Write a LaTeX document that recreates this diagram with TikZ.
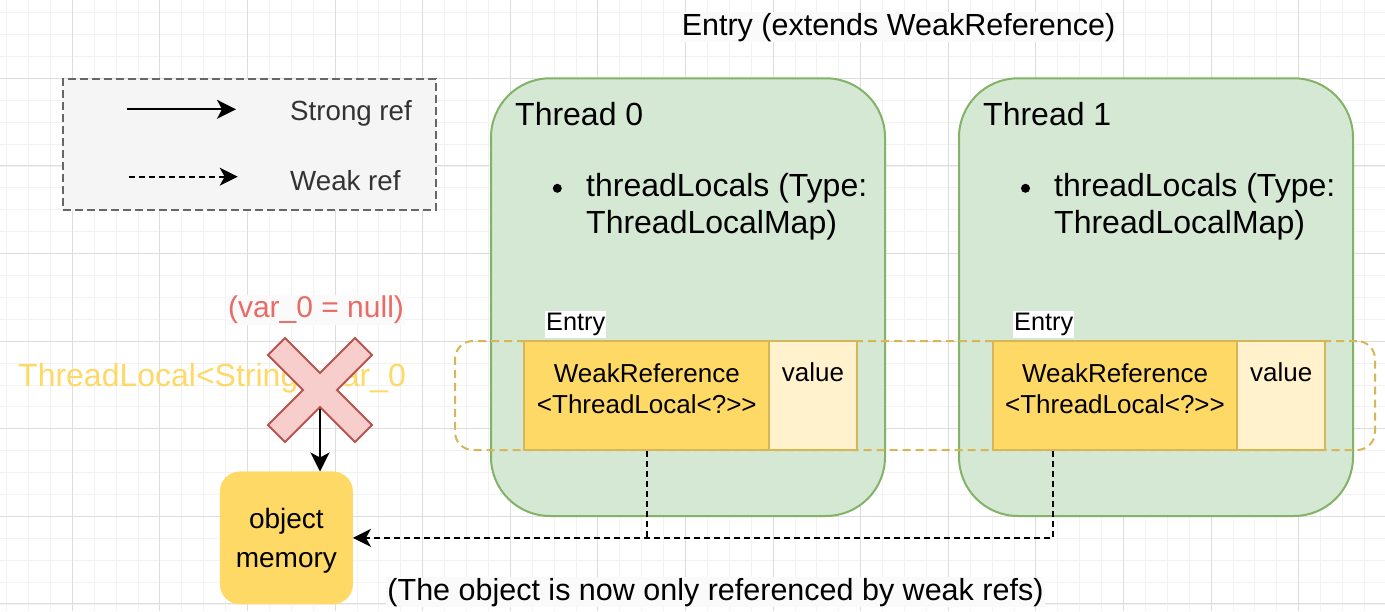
\documentclass[tikz,border=0pt]{standalone}
\usepackage{fontspec}
\setmainfont{Liberation Sans}[Ligatures=TeXOff]
\usetikzlibrary{arrows.meta,calc}
\definecolor{gridminor}{HTML}{F2F2F2}
\definecolor{gridmajor}{HTML}{DDDDDD}
\definecolor{thfill}{HTML}{D5E8D4}
\definecolor{thline}{HTML}{82B366}
\definecolor{wrfill}{HTML}{FFD966}
\definecolor{wrline}{HTML}{D6B656}
\definecolor{valfill}{HTML}{FFF2CC}
\definecolor{xfill}{HTML}{F8CECC}
\definecolor{xline}{HTML}{B85450}
\definecolor{redtxt}{HTML}{EA6B66}
\definecolor{legfill}{HTML}{F5F5F5}
\definecolor{legline}{HTML}{666666}
\definecolor{legtxt}{HTML}{333333}
\definecolor{lblbg}{HTML}{FAFAFA}
\newcommand\fsz[2]{\fontsize{#1}{#2}\selectfont}
\begin{document}
\begin{tikzpicture}[x=1pt,y=-1pt,
  minorgrid/.style={draw=gridminor,line width=1pt},
  majorgrid/.style={draw=gridmajor,line width=1pt},
  thread/.style={draw=thline,fill=thfill,line width=2pt,rounded corners=59pt,minimum width=394pt,minimum height=437.7pt,inner sep=0pt},
  wrbox/.style={draw=wrline,fill=wrfill,line width=2pt,minimum width=245pt,minimum height=109pt,inner sep=0pt},
  valbox/.style={draw=wrline,fill=valfill,line width=2pt,minimum width=87.6pt,minimum height=109pt,inner sep=0pt},
  groupbox/.style={draw=wrline,dash pattern=on 8pt off 5pt,line width=2pt,rounded corners=18pt,minimum width=920pt,minimum height=109pt,inner sep=0pt},
  bulletdot/.style={circle,fill=black,inner sep=0pt,minimum size=9pt},
  txt/.style={inner sep=0pt,text=black},
  entrylbl/.style={anchor=base west,fill=white,inner xsep=1pt,inner ysep=2.5pt,font=\fsz{25.3}{30}},
  strongarrow/.style={line width=2pt,-{Stealth[length=19pt,width=19pt,inset=5pt]}},
  weakline/.style={line width=2pt,dash pattern=on 6pt off 4pt},
  weakarrow/.style={weakline,-{Stealth[length=18pt,width=18pt,inset=5pt]}}
]
\useasboundingbox (0,0) rectangle (1385,611);
\fill[white] (0,0) rectangle (1385,611);
% grid
\foreach \i in {0,...,63} {\draw[minorgrid] ({6.6+\i*21.9},0) -- ({6.6+\i*21.9},611);}
\foreach \i in {0,...,28} {\draw[minorgrid] (0,{12.7+\i*21.9}) -- (1385,{12.7+\i*21.9});}
\foreach \i in {0,...,15} {\draw[majorgrid] ({72.3+\i*87.6},0) -- ({72.3+\i*87.6},611);}
\foreach \i in {0,...,6} {\draw[majorgrid] (0,{78.3+\i*87.6}) -- (1385,{78.3+\i*87.6});}

% legend
\node[draw=legline,fill=legfill,dash pattern=on 8pt off 4pt,line width=1.5pt,minimum width=373pt,minimum height=131pt,inner sep=0pt] (legend) at (249.35,144.5) {};
\coordinate (s1) at (126.7,109.3);
\coordinate (s2) at (236,109.3);
\coordinate (w1) at (128.7,176.7);
\coordinate (w2) at (237.7,176.7);
\draw[strongarrow] (s1) -- (s2);
\draw[weakarrow] (w1) -- (w2);
\node[txt,anchor=base west,text=legtxt,font=\fsz{27.7}{33}] (strongtxt) at (290,120.7) {Strong ref};
\node[txt,anchor=base west,text=legtxt,font=\fsz{27.7}{33}] (weaktxt) at (290,190) {Weak ref};

% title
\node[anchor=base,fill=lblbg,inner sep=1pt,font=\fsz{30.5}{36}] (title) at (898.5,35) {Entry (extends WeakReference)};

% threads
\node[thread] (t0) at (688,297.15) {};
\node[thread] (t1) at (1156,297.15) {};
\node[txt,anchor=base west,font=\fsz{32}{38}] (t0title) at (515,125) {Thread 0};
\node[txt,anchor=base west,font=\fsz{32}{38}] (t1title) at (983,125) {Thread 1};
\node[bulletdot] (t0dot) at (557.3,188.3) {};
\node[bulletdot] (t1dot) at (1025.5,188.3) {};
\node[txt,anchor=north west,align=left,font=\fsz{32}{37}] (t0loc) at (586,172.7) {threadLocals (Type:\\ThreadLocalMap)};
\node[txt,anchor=north west,align=left,font=\fsz{32}{37}] (t1loc) at (1054,172.7) {threadLocals (Type:\\ThreadLocalMap)};

% group of entries
\node[groupbox] (grp) at (915,395.5) {};

% entries
\node[wrbox] (wr0) at (646.8,395.5) {};
\node[valbox] (v0) at (813,395.5) {};
\node[wrbox] (wr1) at (1115,395.5) {};
\node[valbox] (v1) at (1281.2,395.5) {};
\node[entrylbl] (e0lbl) at (545,330.7) {Entry};
\node[entrylbl] (e1lbl) at (1013,330.7) {Entry};
\node[txt,anchor=north,align=center,font=\fsz{26}{31.3}] (wr0txt) at (646.8,363) {WeakReference\\<ThreadLocal<?>>};
\node[txt,anchor=north,align=center,font=\fsz{26}{31.3}] (wr1txt) at (1115,363) {WeakReference\\<ThreadLocal<?>>};
\node[txt,anchor=base,font=\fsz{26}{31}] (v0txt) at (v0.center |- 0,381.7) {value};
\node[txt,anchor=base,font=\fsz{26}{31}] (v1txt) at (v1.center |- 0,381.7) {value};

% object memory
\node[fill=wrfill,draw=wrfill,rounded corners=20pt,minimum width=132.7pt,minimum height=132.3pt,inner sep=0pt] (obj) at (286.4,537.85) {};
\node[txt,anchor=north,align=center,font=\fsz{28}{39}] (objtxt) at (286.4,507.8) {object\\memory};

% weak references
\coordinate (w1s) at ($(wr1.south west)!0.2506!(wr1.south east)$);
\coordinate (jn) at (wr0.south |- obj.east);
\draw[weakline] (wr0.south) -- (jn);
\draw[weakarrow] (w1s) |- (obj.east);

% ThreadLocal variable, crossed out
\node[txt,anchor=base west,text=wrfill,font=\fsz{32}{38}] (tlvar) at (18,386) {ThreadLocal<String> var\_0};
\coordinate (xc) at (320,390);
\draw[strongarrow] (xc) -- (xc |- obj.north);
\filldraw[draw=xline,fill=xfill,line width=2pt,line join=miter,shift={(xc)}]
  (0,-17) -- (35,-52) -- (52,-35) -- (17,0) -- (52,35) -- (35,52) -- (0,17)
  -- (-35,52) -- (-52,35) -- (-17,0) -- (-52,-35) -- (-35,-52) -- cycle;
\node[fill=lblbg,text=redtxt,inner sep=1pt,font=\fsz{30}{36}] (nulltxt) at (316,310) {(var\_0 = null)};

% note
\node[anchor=base,fill=lblbg,inner sep=1pt,font=\fsz{30.5}{36}] (note) at (715.5,600) {(The object is now only referenced by weak refs)};
\end{tikzpicture}
\end{document}
